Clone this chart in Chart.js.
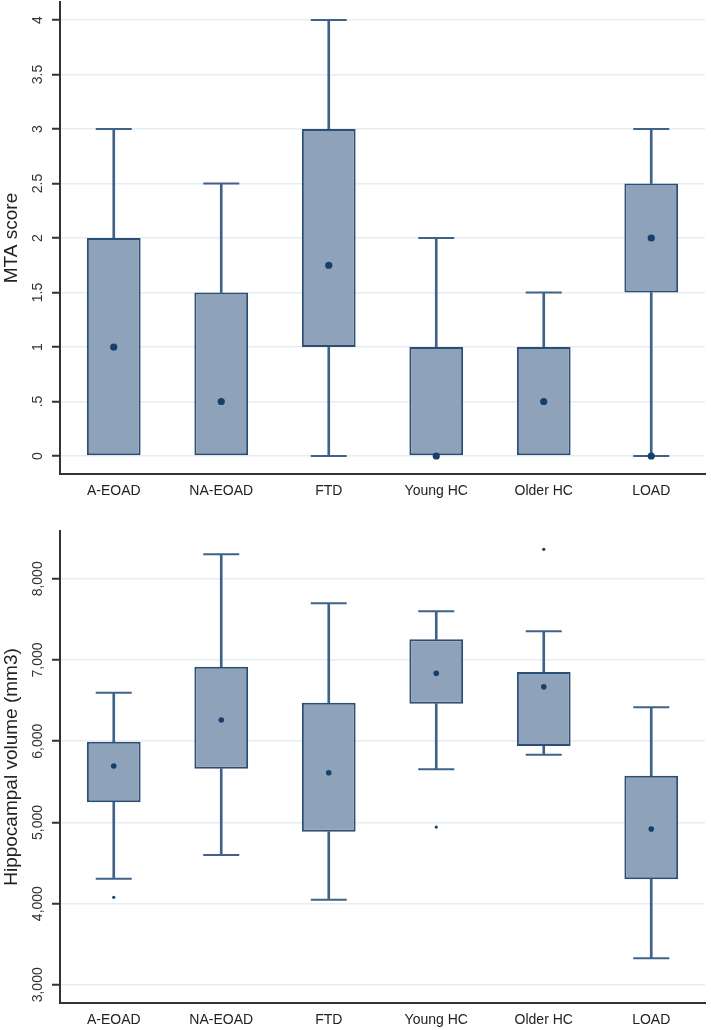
<!DOCTYPE html>
<html>
<head>
<meta charset="utf-8">
<script src="https://cdn.jsdelivr.net/npm/chart.js@4.4.1/dist/chart.umd.min.js"></script>
<style>
  html, body { margin: 0; padding: 0; background: #fff; }
  canvas { position: absolute; left: 0; }
  #mta { top: 0; }
  #hv { top: 510px; }
</style>
</head>
<body>
<canvas id="mta" width="711" height="510"></canvas>
<canvas id="hv" width="711" height="520"></canvas>
<script>
const groups = ['A-EOAD', 'NA-EOAD', 'FTD', 'Young HC', 'Older HC', 'LOAD'];

// top panel: MTA score
const mtaMin     = [0, 0, 0, 0, 0, 0];
const mtaQ1      = [0, 0, 1, 0, 0, 1.5];
const mtaMedian  = [1, 0.5, 1.75, 0, 0.5, 2];
const mtaQ3      = [2, 1.5, 3, 1, 1, 2.5];
const mtaMax     = [3, 2.5, 4, 2, 1.5, 3];
const mtaOutlier = [null, null, null, null, null, 0];
const mtaTickValues = [0, 0.5, 1, 1.5, 2, 2.5, 3, 3.5, 4];
const mtaTickLabels = ['0', '.5', '1', '1.5', '2', '2.5', '3', '3.5', '4'];

// bottom panel: hippocampal volume
const hvMin     = [4307, 4599, 4048, 5654, 5834, 3326];
const hvQ1      = [5248, 5661, 4885, 6462, 5941, 4299];
const hvMedian  = [5695, 6261, 5612, 6836, 6671, 4919];
const hvQ3      = [5994, 6917, 6474, 7255, 6852, 5575];
const hvMax     = [6597, 8302, 7698, 7600, 7353, 6417];
const hvOutlier = [4078, null, null, 4943, 8363, null];
const hvTickValues = [3000, 4000, 5000, 6000, 7000, 8000];
const hvTickLabels = ['3,000', '4,000', '5,000', '6,000', '7,000', '8,000'];

const boxFill = 'rgb(142,163,185)';
const boxLine = '#2b4f74';
const whiskerCol = '#3f6388';
const dotCol = '#163f6b';
const axisCol = '#333333';
const gridCol = '#e7eef3';
const FONT = 'Liberation Sans, Arial, sans-serif';

function boxChart(id, d) {
  const lowWhisker = d.min.map((v, i) => v < d.q1[i] ? [v, d.q1[i]] : null);
  const highWhisker = d.max.map((v, i) => v > d.q3[i] ? [d.q3[i], v] : null);
  const lowCap = d.min.map((v, i) => v < d.q1[i] ? v : null);
  const highCap = d.max.map((v, i) => v > d.q3[i] ? v : null);
  const boxes = d.q1.map((v, i) => [v, d.q3[i]]);

  const dots = (data, r) => ({
    type: 'line', data: data, showLine: false,
    pointRadius: r, pointBackgroundColor: dotCol, pointBorderWidth: 0
  });
  const caps = (data) => ({
    type: 'line', data: data, showLine: false,
    pointStyle: 'line', pointRadius: 18,
    pointBorderColor: whiskerCol, pointBorderWidth: 2
  });
  const whisk = (data) => ({
    type: 'bar', data: data, grouped: false, barThickness: 2,
    backgroundColor: whiskerCol, borderWidth: 0
  });

  return new Chart(document.getElementById(id), {
    type: 'bar',
    data: {
      labels: groups,
      datasets: [
        dots(d.median, d.medR),
        dots(d.outlier, d.outR),
        {
          type: 'bar', data: boxes, grouped: false,
          backgroundColor: boxFill, borderColor: boxLine,
          borderWidth: 2, borderSkipped: false,
          barPercentage: 0.5, categoryPercentage: 1
        },
        whisk(lowWhisker),
        whisk(highWhisker),
        caps(lowCap),
        caps(highCap)
      ]
    },
    options: {
      responsive: false,
      animation: false,
      events: [],
      layout: { autoPadding: false, padding: { top: d.padTop, right: 6, left: 0, bottom: 0 } },
      plugins: { legend: { display: false }, tooltip: { enabled: false } },
      scales: {
        x: {
          grid: { display: false, drawTicks: false },
          border: { color: axisCol, width: 2 },
          ticks: { font: { family: FONT, size: 14 }, color: '#222', padding: 9 },
          afterFit: s => { s.height = d.xHeight; s.paddingLeft = 0; s.paddingRight = 0; }
        },
        y: {
          min: d.yMin, max: d.yMax,
          grid: { color: gridCol, lineWidth: 1.5, tickColor: axisCol, tickWidth: 2, tickLength: 8 },
          border: { color: axisCol, width: 2 },
          afterBuildTicks: s => { s.ticks = d.tickValues.map(v => ({ value: v })); },
          ticks: {
            autoSkip: false,
            minRotation: 90, maxRotation: 90, crossAlign: 'center',
            padding: d.tickPad,
            font: { family: FONT, size: 14 }, color: '#333',
            callback: (v, i) => d.tickLabels[i]
          },
          title: {
            display: true, text: d.title, color: '#222',
            font: { family: FONT, size: 19 }, padding: 0
          },
          afterFit: s => { s.width = 60; s.paddingTop = 0; s.paddingBottom = 0; }
        }
      }
    }
  });
}

boxChart('mta', {
  min: mtaMin, q1: mtaQ1, median: mtaMedian, q3: mtaQ3, max: mtaMax, outlier: mtaOutlier,
  medR: 3.6, outR: 3.6, padTop: 2, xHeight: 36,
  yMin: -0.165, yMax: 4.165, tickValues: mtaTickValues, tickLabels: mtaTickLabels,
  tickPad: 4, title: 'MTA score'
});

boxChart('hv', {
  min: hvMin, q1: hvQ1, median: hvMedian, q3: hvQ3, max: hvMax, outlier: hvOutlier,
  medR: 2.8, outR: 1.6, padTop: 21, xHeight: 27,
  yMin: 2776, yMax: 8589, tickValues: hvTickValues, tickLabels: hvTickLabels,
  tickPad: -3.5, title: 'Hippocampal volume (mm3)'
});
</script>
</body>
</html>
